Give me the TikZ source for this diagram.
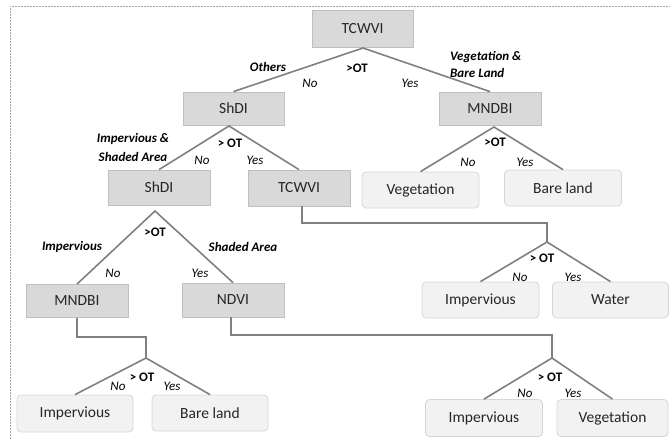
\documentclass[tikz,border=0pt]{standalone}
\usepackage{fontspec}
\setmainfont{Carlito}
\definecolor{boxfill}{RGB}{217,217,217}
\definecolor{boxline}{RGB}{191,191,191}
\definecolor{leaffill}{RGB}{242,242,242}
\definecolor{leafline}{RGB}{214,214,214}
\definecolor{conn}{RGB}{128,128,128}
\definecolor{txt}{RGB}{38,38,38}
\tikzset{
  testbox/.style={draw=boxline, fill=boxfill, line width=0.8pt, minimum width=101pt, minimum height=34pt, inner sep=0pt, text=txt, font=\fontsize{15.5}{18}\selectfont},
  leafbox/.style={draw=leafline, fill=leaffill, line width=0.8pt, rounded corners=4pt, minimum width=116pt, minimum height=36pt, inner sep=0pt, text=txt, font=\fontsize{15.5}{18}\selectfont},
  conn/.style={draw=conn, line width=1.6pt},
  cond/.style={font=\fontsize{13}{17}\selectfont\bfseries, inner sep=0pt},
  ans/.style={font=\fontsize{13}{17}\selectfont\itshape, inner sep=0pt},
  cls/.style={font=\fontsize{13}{17}\selectfont\bfseries\itshape, inner sep=0pt},
}
\begin{document}
\begin{tikzpicture}[x=1pt, y=-1pt]
\useasboundingbox (0,0) rectangle (670,439);
\draw[gray!70, line width=0.6pt, dash pattern=on 2pt off 1pt] (10,439) -- (10,6) -- (670,6);

% apex coordinates
\coordinate (a1) at (363,48);
\coordinate (a2) at (229,126);
\coordinate (a3) at (494,127);
\coordinate (a4) at (155,211);
\coordinate (b1) at (146,337);
\coordinate (a5) at (146,358);
\coordinate (b2) at (547,223);
\coordinate (a6) at (547,242);
\coordinate (b3) at (552,335);
\coordinate (a7) at (552,358);

% nodes
\node[testbox, minimum height=37pt] (t1) at (362.5,28.5) {TCWVI};
\node[testbox, minimum height=33pt] (s1) at (233.5,108.5) {ShDI};
\node[testbox, minimum width=102pt, minimum height=33pt] (m1) at (490,108.5) {MNDBI};
\node[testbox, minimum width=102pt, minimum height=35pt] (s2) at (159,187.5) {ShDI};
\node[testbox, minimum width=102pt, minimum height=36pt] (t2) at (299,188) {TCWVI};
\node[leafbox, minimum width=117pt] (veg1) at (420.5,190) {Vegetation};
\node[leafbox, minimum width=117pt] (bare1) at (563,188) {Bare land};
\node[testbox, minimum width=102pt, minimum height=33pt] (m2) at (77,301) {MNDBI};
\node[testbox, minimum width=102pt, minimum height=34pt] (n1) at (233,300) {NDVI};
\node[leafbox, minimum width=117pt] (imp1) at (480.5,300) {Impervious};
\node[leafbox, minimum width=116pt] (water) at (610.5,300) {Water};
\node[leafbox, minimum width=116pt, minimum height=37pt] (imp2) at (75,413.5) {Impervious};
\node[leafbox, minimum width=116pt] (bare2) at (210,413) {Bare land};
\node[leafbox, minimum width=117pt, minimum height=37pt] (imp3) at (484,418) {Impervious};
\node[leafbox, minimum width=111pt, minimum height=37pt] (veg2) at (612.5,418) {Vegetation};

% connectors
\draw[conn] (s1.north) -- (a1) -- (m1.north);
\draw[conn] (s2.north) -- (a2) -- (t2.north);
\draw[conn] (veg1.north) -- (a3) -- (bare1.north);
\draw[conn] (m2.north) -- (a4) -- (n1.north);
\draw[conn] (m2.south) |- (b1) -- (a5);
\draw[conn] (imp2.north) -- (a5) -- (bare2.north);
\draw[conn] (t2.south -| 302,0) |- (b2) -- (a6);
\draw[conn] (imp1.north) -- (a6) -- (water.north);
\draw[conn] (n1.south -| 231,0) |- (b3) -- (a7);
\draw[conn] (imp3.north) -- (a7) -- (veg2.north);

% labels, level 1
\node[cls] (l1) at (268,67) {Others};
\node[cond] (o1) at (357,68) {>OT};
\node[ans] (n1l) at (310,83) {No};
\node[ans] (y1l) at (410,83) {Yes};
\node[cls, align=left, anchor=west, font=\fontsize{13}{17}\selectfont\bfseries\itshape] (l2) at (450,64.5) {Vegetation \&\\Bare Land};
% level 2 left
\node[cond] (o2) at (230,143) {> OT};
\node[ans] (n2l) at (202,160) {No};
\node[ans] (y2l) at (255,160) {Yes};
\node[cls, align=center, font=\fontsize{13}{19}\selectfont\bfseries\itshape] (l3) at (133,147.5) {Impervious \&\\Shaded Area};
% level 2 right
\node[cond] (o3) at (495,142) {>OT};
\node[ans] (n3l) at (468,162) {No};
\node[ans] (y3l) at (525,162) {Yes};
% level 3
\node[cond] (o4) at (155,232) {>OT};
\node[cls] (l4) at (72,247) {Impervious};
\node[cls] (l5) at (243,247) {Shaded Area};
\node[ans] (n4l) at (113,273) {No};
\node[ans] (y4l) at (200,273) {Yes};
% bottom left
\node[cond] (o5) at (142,377) {> OT};
\node[ans] (n5l) at (118,386) {No};
\node[ans] (y5l) at (172,386) {Yes};
% middle right
\node[cond] (o6) at (542,258) {> OT};
\node[ans] (n6l) at (520,277) {No};
\node[ans] (y6l) at (573,277) {Yes};
% bottom right
\node[cond] (o7) at (550,377) {> OT};
\node[ans] (n7l) at (525,393) {No};
\node[ans] (y7l) at (573,393) {Yes};
\end{tikzpicture}
\end{document}
